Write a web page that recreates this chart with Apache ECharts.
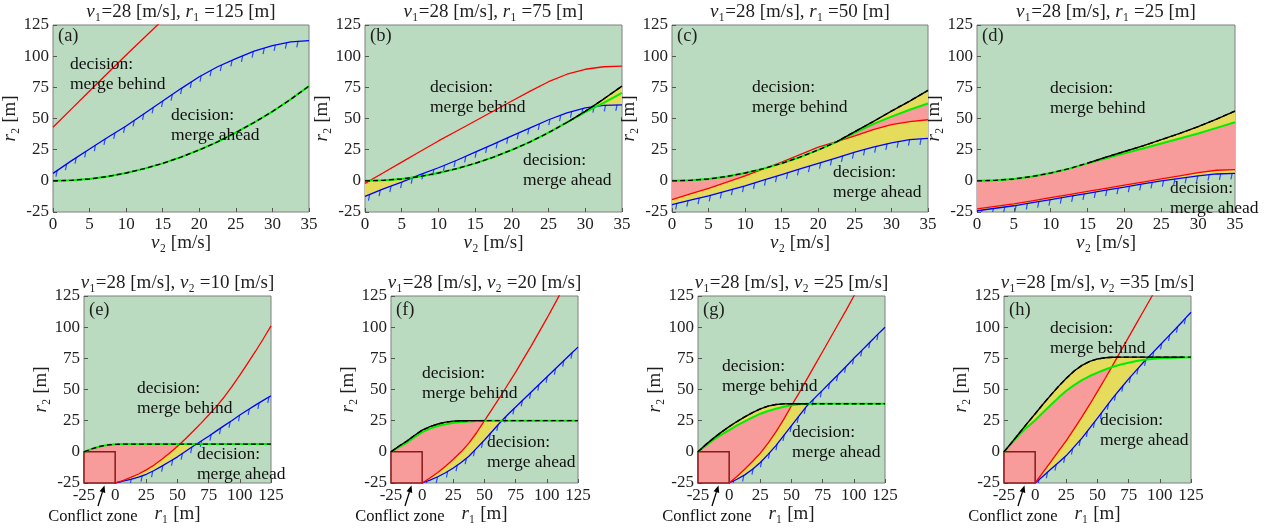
<!DOCTYPE html>
<html>
<head>
<meta charset="utf-8">
<script src="https://cdn.jsdelivr.net/npm/echarts@6/dist/echarts.min.js"></script>
<style>html,body{margin:0;padding:0;background:#fff;}#chart{width:1277px;height:531px;}</style>
</head>
<body>
<div id="chart"></div>
<script>
// ===================== DATA =====================
const v2 = [0, 2.5, 5, 7.5, 10, 12.5, 15, 17.5, 20, 22.5, 25, 27.5, 30, 32.5, 35];
const r1 = [-25, -18.75, -12.5, -6.25, 0, 6.25, 12.5, 18.75, 25, 31.25, 37.5, 43.75, 50,
  56.25, 62.5, 68.75, 75, 81.25, 87.5, 93.75, 100, 106.25, 112.5, 118.75, 125];

const aRed   = [43, 57.5, 72, 86.5, 101, 115, 129, null, null, null, null, null, null, null, null];
const aBlue  = [6, 16, 25.5, 35, 44, 54, 64, 74, 83.5, 91.5, 98, 104, 108.5, 111.5, 112.5];
const aGreen = [0, 0.4, 1.5, 3.5, 6.3, 9.8, 14, 19, 24.8, 31.3, 38.7, 46.8, 55.6, 65.4, 76];
const aBlack = [0, 0.4, 1.5, 3.5, 6.3, 9.8, 14, 19, 24.8, 31.3, 38.7, 46.8, 55.6, 65.4, 76];

const bRed   = [-2, 6.5, 15, 23.5, 32, 40, 48, 56, 64, 72, 79.5, 85.5, 89.5, 91.5, 92];
const bBlue  = [-12.5, -6.5, -1, 5, 10.5, 16.5, 23, 29.5, 36, 42.5, 49, 54.5, 58.5, 60.5, 61];
const bGreen = [0, 0.4, 1.5, 3.5, 6.3, 9.8, 14, 19, 24.8, 31.3, 38.7, 46.8, 55.2, 62.5, 70.5];
const bBlack = [0, 0.4, 1.5, 3.5, 6.3, 9.8, 14, 19, 24.8, 31.3, 38.7, 46.8, 55.8, 65.6, 76];

const cRed   = [-15, -10.5, -6, -1, 4, 9.5, 15, 21, 27, 31.5, 36, 41, 45, 47.5, 49];
const cBlue  = [-19, -15.5, -12, -8, -4, 0.5, 5, 9.5, 14, 18.5, 23, 27, 30.5, 33, 34];
const cGreen = [0, 0.4, 1.5, 3.5, 6.3, 9.8, 14, 19, 24.8, 31.3, 38.5, 45.5, 51.5, 57, 62];
const cBlack = [0, 0.4, 1.5, 3.5, 6.3, 9.8, 14, 19, 24.8, 31.3, 39.5, 47.5, 56, 64, 72.5];

const dRed   = [-22.5, -20.5, -18.5, -16, -13.5, -11, -8.5, -6, -3.5, -1, 1.5, 4, 6.5, 8.5, 9];
const dBlue  = [-24, -22, -20, -17.5, -15, -12.5, -10, -7.5, -5, -2.5, 0, 2, 4, 5.5, 6];
const dGreen = [0, 0.4, 1.5, 3.5, 6.3, 9.8, 14, 18, 22, 26, 30, 34, 38, 42.5, 47];
const dBlack = [0, 0.4, 1.5, 3.5, 6.3, 9.8, 14.2, 19, 23.5, 28, 33, 38, 43.5, 49.5, 56];

const eRed   = [null, null, null, null, -25, -23, -20.5, -17.8, -14.5, -10.5, -6, -1, 4.5,
  10.3, 16.5, 22.8, 29.5, 36.5, 44, 52.5, 61.5, 71, 80.5, 90.5, 101];
const eBlue  = [null, null, null, null, -25, -23.5, -22, -20.2, -18, -15, -11.5, -7.8, -4,
  0.2, 4.5, 8.5, 12.5, 16.8, 21, 25.2, 29.5, 33.5, 37.5, 41.3, 45];
const eGreen = [0, 2.4, 4.3, 5.5, 6, 6.2, 6.2, 6.2, 6.2, 6.2, 6.2, 6.2, 6.2,
  6.2, 6.2, 6.2, 6.2, 6.2, 6.2, 6.2, 6.2, 6.2, 6.2, 6.2, 6.2];
const eBlack = [0, 2.4, 4.3, 5.5, 6, 6.2, 6.2, 6.2, 6.2, 6.2, 6.2, 6.2, 6.2,
  6.2, 6.2, 6.2, 6.2, 6.2, 6.2, 6.2, 6.2, 6.2, 6.2, 6.2, 6.2];

const fRed   = [null, null, null, null, -25, -21, -16.5, -11.5, -6, 0, 7, 15.5, 25,
  34.5, 44, 54, 64, 74.5, 85, 96, 107, 118.5, 130, 141.5, 153];
const fBlue  = [null, null, null, null, -25, -22.7, -20, -16.8, -13, -8.5, -3.5, 3, 9.5,
  16.5, 23.5, 30, 36, 42, 48, 54, 60, 66, 72, 78, 84];
const fGreen = [0, 3.7, 7.2, 11.7, 15.8, 18.6, 20.7, 22.2, 23.3, 24, 24.4, 24.7, 24.9,
  25, 25, 25, 25, 25, 25, 25, 25, 25, 25, 25, 25];
const fBlack = [0, 4.5, 8.5, 13.1, 17.4, 20.2, 22.3, 23.8, 24.6, 24.9, 25, 25, 25,
  25, 25, 25, 25, 25, 25, 25, 25, 25, 25, 25, 25];

const gRed   = [null, null, null, null, -25, -19.8, -14, -7.8, -1, 7, 16, 26, 37,
  47.5, 58.5, 69.5, 80.5, 91.5, 102.5, 113.5, 125, 136, 147.5, 158.5, 170];
const gBlue  = [null, null, null, null, -25, -22, -18.5, -14, -8.5, -2, 5, 13, 21,
  29, 37, 43.3, 49.5, 55.8, 62, 68.5, 75, 81.2, 87.5, 93.8, 100];
const gGreen = [0, 5, 9.7, 13.8, 17.5, 21.2, 24.5, 27.7, 30.6, 32.8, 34.6, 36.2, 37.4,
  38.2, 38.5, 38.6, 38.6, 38.6, 38.6, 38.6, 38.6, 38.6, 38.6, 38.6, 38.6];
const gBlack = [0, 5.8, 11, 15.8, 20.2, 24.3, 28, 31.5, 34.5, 36.7, 38, 38.5, 38.6,
  38.6, 38.6, 38.6, 38.6, 38.6, 38.6, 38.6, 38.6, 38.6, 38.6, 38.6, 38.6];

const hRed   = [null, null, null, null, -25, -16.5, -8, 0.5, 9, 18.5, 28, 38, 48.5,
  59, 70, 81, 92, 103, 114, 125, 136, 147, 158, 169, 180];
const hBlue  = [null, null, null, null, -25, -19.5, -14, -8.5, -3, 4, 11, 19, 27,
  35.3, 43.5, 51, 58.5, 65.5, 72.5, 79, 85.5, 92, 98.5, 105.2, 112];
const hGreen = [0, 7, 14, 20, 25.4, 31.5, 37.5, 43.5, 49, 53.5, 57.5, 60.8, 63.5,
  66, 68.3, 70, 71.5, 72.8, 73.8, 74.5, 75, 75.3, 75.5, 75.7, 75.8];
const hBlack = [0, 7.6, 15.3, 23, 30.5, 38.2, 45.5, 52.5, 59, 64.8, 69.3, 72.5, 74.5,
  75.5, 75.9, 76, 76, 76, 76, 76, 76, 76, 76, 76, 76];

// conflict zone (r1 range, r2 range)
const zoneR1 = [-25, 0];
const zoneR2 = [-25, 0];

// axis ranges / ticks
const v2Axis = [0, 35, 5];
const r1Axis = [-25, 125, 25];
const r2Axis = [-25, 125, 25];

// texts
const titles = [
  '{i|v}{n|₁=28 [m/s], }{i|r}{n|₁ =125 [m]}',
  '{i|v}{n|₁=28 [m/s], }{i|r}{n|₁ =75 [m]}',
  '{i|v}{n|₁=28 [m/s], }{i|r}{n|₁ =50 [m]}',
  '{i|v}{n|₁=28 [m/s], }{i|r}{n|₁ =25 [m]}',
  '{i|v}{n|₁=28 [m/s], }{i|v}{n|₂ =10 [m/s]}',
  '{i|v}{n|₁=28 [m/s], }{i|v}{n|₂ =20 [m/s]}',
  '{i|v}{n|₁=28 [m/s], }{i|v}{n|₂ =25 [m/s]}',
  '{i|v}{n|₁=28 [m/s], }{i|v}{n|₂ =35 [m/s]}'
];
const letters = ['(a)', '(b)', '(c)', '(d)', '(e)', '(f)', '(g)', '(h)'];
const xNameTop = '{i|v}{n|₂ [m/s]}';
const xNameBottom = '{i|r}{n|₁ [m]}';
const yName = '{i|r}{n|₂ [m]}';
const noteBehind = 'decision:\nmerge behind';
const noteAhead = 'decision:\nmerge ahead';
const zoneLabel = 'Conflict zone';

const panels = [
  {x: v2, red: aRed, blue: aBlue, green: aGreen, black: aBlack, zone: false},
  {x: v2, red: bRed, blue: bBlue, green: bGreen, black: bBlack, zone: false},
  {x: v2, red: cRed, blue: cBlue, green: cGreen, black: cBlack, zone: false},
  {x: v2, red: dRed, blue: dBlue, green: dGreen, black: dBlack, zone: false},
  {x: r1, red: eRed, blue: eBlue, green: eGreen, black: eBlack, zone: true},
  {x: r1, red: fRed, blue: fBlue, green: fGreen, black: fBlack, zone: true},
  {x: r1, red: gRed, blue: gBlue, green: gGreen, black: gBlack, zone: true},
  {x: r1, red: hRed, blue: hBlue, green: hGreen, black: hBlack, zone: true}
];

// ===================== LAYOUT / STYLE =====================
const F = 'Liberation Serif';
const C = {bg: '#bbdbc0', pink: '#f79b9b', yellow: '#e4dc5a', red: '#ff0000', blue: '#0000ff',
  tick: '#2b4cff', green: '#00ee00', black: '#000000', zone: '#8b1a1a', text: '#1e1e1e', frame: '#7f7f7f'};
const layout = [
  [53, 25, 256, 187], [365, 25, 257, 187], [672, 25, 256, 187], [977, 25, 258, 187],
  [84, 296, 187, 187], [391, 296, 187, 187], [698, 296, 187, 187], [1004, 296, 187, 187]
];
const notePos = [
  [[70, 74], [171, 125]], [[430, 97], [523, 170]], [[752, 97.5], [833, 182]], [[1050, 98], [1170, 198]],
  [[137, 398], [197, 464]], [[422, 383], [487, 452]], [[722, 376], [792, 442]], [[1050, 338], [1100, 430]]
];

function richFor(size, key) {
  const c = key === 'fill' ? {fill: C.text} : {color: C.text};
  return {
    i: Object.assign({fontStyle: 'italic', fontSize: size, fontFamily: F}, c),
    n: Object.assign({fontStyle: 'normal', fontSize: size, fontFamily: F}, c)
  };
}

// ---- band polygon builder (fill between upper & lower where upper > lower) ----
function bandPolys(xs, up, lo, floor) {
  const L = i => (lo[i] == null ? floor : lo[i]);
  const d = i => { const l = L(i); return (l == null || up[i] == null) ? -Infinity : up[i] - l; };
  const polys = []; let top = [], bot = [];
  const close = () => { if (top.length > 1) polys.push(top.concat(bot.slice().reverse())); top = []; bot = []; };
  for (let i = 0; i < xs.length; i++) {
    const di = d(i);
    if (i > 0) {
      const dp = d(i - 1);
      if (dp > 0 && di <= 0) {
        if (isFinite(di)) {
          const t = dp / (dp - di);
          const x = xs[i - 1] + t * (xs[i] - xs[i - 1]);
          const y = up[i - 1] + t * (up[i] - up[i - 1]);
          top.push([x, y]); bot.push([x, y]);
        }
        close();
      } else if (dp <= 0 && di > 0 && isFinite(dp)) {
        const t = dp / (dp - di);
        const x = xs[i - 1] + t * (xs[i] - xs[i - 1]);
        const y = up[i - 1] + t * (up[i] - up[i - 1]);
        top.push([x, y]); bot.push([x, y]);
      }
    }
    if (di > 0) { top.push([xs[i], up[i]]); bot.push([xs[i], L(i)]); }
  }
  close();
  return polys;
}

function bandSeries(idx, xs, up, lo, floor, color) {
  return {
    type: 'custom', xAxisIndex: idx, yAxisIndex: idx, silent: true, data: [[xs[0], 0]],
    renderItem: (params, api) => ({
      type: 'group',
      children: bandPolys(xs, up, lo, floor).map(poly => ({
        type: 'polygon', shape: {points: poly.map(p => api.coord(p))}, style: {fill: color}
      }))
    })
  };
}

function zoneSeries(idx) {
  return {
    type: 'custom', xAxisIndex: idx, yAxisIndex: idx, silent: true, data: [[zoneR1[0], zoneR2[0]]],
    renderItem: (params, api) => {
      const p0 = api.coord([zoneR1[0], zoneR2[1]]);
      const p1 = api.coord([zoneR1[1], zoneR2[0]]);
      return {type: 'rect', shape: {x: p0[0], y: p0[1], width: p1[0] - p0[0], height: p1[1] - p0[1]},
        style: {fill: C.pink, stroke: C.zone, lineWidth: 1.5}};
    }
  };
}

function tickSeries(idx, xs, ys) {
  return {
    type: 'custom', xAxisIndex: idx, yAxisIndex: idx, silent: true, data: [[xs[0], 0]],
    renderItem: (params, api) => {
      const cs = params.coordSys;
      const pts = [];
      xs.forEach((x, i) => { if (ys[i] != null) pts.push(api.coord([x, ys[i]])); });
      const children = []; const step = 11.5; let acc = 5;
      for (let i = 1; i < pts.length; i++) {
        const [x0, y0] = pts[i - 1], [x1, y1] = pts[i];
        const len = Math.hypot(x1 - x0, y1 - y0);
        while (acc <= len) {
          const t = acc / len; const px = x0 + t * (x1 - x0), py = y0 + t * (y1 - y0);
          children.push({type: 'line', shape: {x1: px, y1: py, x2: px - 1.2, y2: py + 6},
            style: {stroke: C.tick, lineWidth: 1.2}});
          acc += step;
        }
        acc -= len;
      }
      return {type: 'group', children,
        clipPath: {type: 'rect', shape: {x: cs.x, y: cs.y, width: cs.width, height: cs.height}}};
    }
  };
}

function lineSeries(idx, data, color, width, dash) {
  return {
    type: 'line', xAxisIndex: idx, yAxisIndex: idx, data, silent: true, clip: true,
    showSymbol: false, symbol: 'none', connectNulls: false,
    lineStyle: {color, width, type: dash || 'solid'}
  };
}
const pairs = (xs, ys) => xs.map((x, i) => [x, ys[i] == null ? null : ys[i]]);
function divergent(xs, blk, grn) {
  const on = blk.map((b, i) => Math.abs(b - grn[i]) > 0.3);
  return xs.map((x, i) => (on[i] || on[i - 1] || on[i + 1]) ? [x, blk[i]] : [x, null]);
}

function textEl(x, y, text, size, align, extra) {
  return {type: 'text', z: 100, x, y,
    style: Object.assign({text, fontFamily: F, fontSize: size, fontStyle: 'normal', fill: C.text,
      align, verticalAlign: 'middle', textAlign: align, textVerticalAlign: 'middle'}, extra || {})};
}

const grid = [], xAxis = [], yAxis = [], series = [], graphic = [];
panels.forEach((p, i) => {
  const [L, T, W, H] = layout[i];
  const isTop = i < 4;
  const xr = isTop ? v2Axis : r1Axis;
  grid.push({left: L, top: T, width: W, height: H, show: true, backgroundColor: C.bg,
    borderColor: C.frame, borderWidth: 1, containLabel: false, outerBoundsMode: 'none'});
  const labelStyle = {fontFamily: F, fontSize: 17, color: C.text, interval: 0, showMinLabel: true, showMaxLabel: true};
  const common = {
    type: 'value', axisLine: {show: false, onZero: false}, splitLine: {show: false},
    axisTick: {show: true, inside: true, length: 4, lineStyle: {color: '#555'}},
    axisLabel: Object.assign({margin: 4}, labelStyle), nameLocation: 'middle',
    nameTextStyle: {fontFamily: F, fontSize: 19, rich: richFor(19, 'color')}
  };
  xAxis.push(Object.assign({gridIndex: i, min: xr[0], max: xr[1], interval: xr[2],
    name: isTop ? xNameTop : xNameBottom, nameGap: isTop ? 19 : 21}, common));
  yAxis.push(Object.assign({gridIndex: i, min: r2Axis[0], max: r2Axis[1], interval: r2Axis[2],
    name: yName, nameGap: 29}, common));

  const floor = p.zone ? zoneR2[0] : null;
  series.push(bandSeries(i, p.x, p.black, p.blue, floor, C.yellow));
  series.push(bandSeries(i, p.x, p.green, p.red, floor, C.pink));
  if (p.zone) series.push(zoneSeries(i));
  series.push(lineSeries(i, pairs(p.x, p.blue), C.blue, 1.3));
  series.push(tickSeries(i, p.x, p.blue));
  series.push(lineSeries(i, pairs(p.x, p.red), C.red, 1.3));
  series.push(lineSeries(i, pairs(p.x, p.green), C.green, 2));
  series.push(lineSeries(i, pairs(p.x, p.black), C.black, 1.4, [5, 3]));
  series.push(lineSeries(i, divergent(p.x, p.black, p.green), C.black, 1.4));

  graphic.push(textEl(L + W / 2, isTop ? 12 : 283, titles[i], 19, 'center', {rich: richFor(19, 'fill')}));
  graphic.push(textEl(L + 5, T + (isTop ? 11 : 14), letters[i], 18.5, 'left'));
  [noteBehind, noteAhead].forEach((txt, k) => {
    const [nx, ny] = notePos[i][k];
    graphic.push(textEl(nx, ny, txt, 17.5, 'left', {lineHeight: 20, fill: '#111'}));
  });
  if (p.zone) {
    graphic.push(textEl(L + 9, 517, zoneLabel, 16.5, 'center', {fill: '#111'}));
    const sx = L + 14, sy = 506, tx = L + 20.5, ty = 485.5;
    const dx = tx - sx, dy = ty - sy, dl = Math.hypot(dx, dy), ux = dx / dl, uy = dy / dl;
    const bx = tx - 7 * ux, by = ty - 7 * uy;
    graphic.push({type: 'line', z: 100, shape: {x1: sx, y1: sy, x2: bx, y2: by}, style: {stroke: '#000', lineWidth: 1.3}});
    graphic.push({type: 'polygon', z: 100, shape: {points: [[tx, ty], [bx - 3 * uy, by + 3 * ux], [bx + 3 * uy, by - 3 * ux]]},
      style: {fill: '#000'}});
  }
});

const chart = echarts.init(document.getElementById('chart'), null, {renderer: 'canvas'});
chart.setOption({animation: false, backgroundColor: '#ffffff', textStyle: {fontFamily: F},
  grid, xAxis, yAxis, series, graphic});
</script>
</body>
</html>
